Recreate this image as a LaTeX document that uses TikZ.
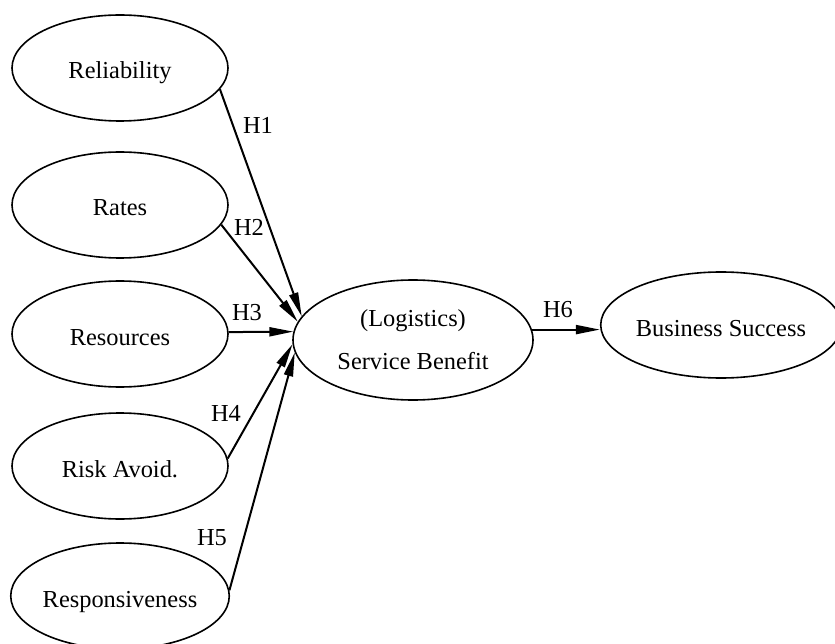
\documentclass[tikz,border=0pt]{standalone}
\usepackage{fontspec}
\setmainfont{Liberation Serif}
\usetikzlibrary{shapes.geometric,arrows.meta}
\begin{document}
\begin{tikzpicture}[x=1pt,y=-1pt,
  oval/.style={ellipse,draw,line width=1.6pt,inner sep=0pt,
    font=\fontsize{24.4}{30}\selectfont},
  construct/.style={oval,minimum width=216pt,minimum height=106pt,
    text height=22pt,text depth=0pt},
  link/.style={draw,line width=2pt,-{Triangle[length=24pt,width=9pt]}},
  lab/.style={font=\fontsize{24.4}{30}\selectfont,inner sep=0pt}]
\useasboundingbox (0,0) rectangle (835,644);
\node[construct] (rel) at (120,68) {Reliability};
\node[construct] (rat) at (120,205) {Rates};
\node[construct] (res) at (120,334) {Resources};
\node[construct] (risk) at (120,466) {Risk Avoid.};
\node[construct] (resp) at (120,596) {Responsiveness};
\node[oval,minimum width=240pt,minimum height=120pt,align=center,
  font=\fontsize{24.4}{43}\selectfont] (sb) at (413,340) {(Logistics)\\Service Benefit};
\node[construct,minimum width=228pt] (bs) at (721,325) {Business Success};
\draw[link] (rel.-12.4) -- (sb.168.8);
\draw[link] (rat.-11.3) -- (sb.171.3);
\draw[link] (res.1) -- (sb.176.1);
\draw[link] (risk.4.3) -- (sb.-178);
\draw[link] (resp.3.2) -- (sb.-174);
\draw[link] (sb.5.8) -- (sb.5.8 -| bs.west);
\node[lab] (h1) at (258,125) {H1};
\node[lab] (h2) at (249,227) {H2};
\node[lab] (h3) at (247,313) {H3};
\node[lab] (h4) at (226,413) {H4};
\node[lab] (h5) at (212,538) {H5};
\node[lab] (h6) at (558,310) {H6};
\end{tikzpicture}
\end{document}
